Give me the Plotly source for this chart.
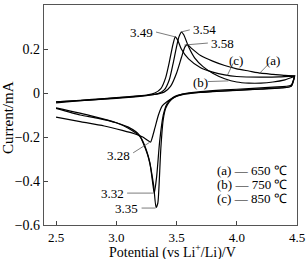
import plotly.graph_objects as go

# Curve (a) 650 C: anodic peak 3.58, cathodic peak 3.28
a_fwd_x = [2.5, 2.7, 2.9, 3.1, 3.3, 3.4, 3.45, 3.5, 3.54, 3.57, 3.59, 3.62, 3.7, 3.8, 3.9, 4.0, 4.1, 4.2, 4.3, 4.4, 4.48]
a_fwd_y = [-0.045, -0.035, -0.027, -0.018, -0.008, 0.005, 0.03, 0.09, 0.16, 0.21, 0.22, 0.205, 0.17, 0.145, 0.125, 0.11, 0.1, 0.09, 0.085, 0.08, 0.078]
a_rev_x = [4.48, 4.45, 4.3, 4.1, 3.9, 3.7, 3.55, 3.48, 3.42, 3.38, 3.35, 3.32, 3.30, 3.285, 3.26, 3.22, 3.15, 3.05, 2.9, 2.7, 2.5]
a_rev_y = [0.078, 0.035, 0.027, 0.02, 0.014, 0.006, -0.005, -0.02, -0.04, -0.06, -0.10, -0.16, -0.20, -0.223, -0.215, -0.2, -0.185, -0.17, -0.15, -0.13, -0.11]

# Curve (b) 750 C: anodic peak 3.54, cathodic peak 3.35
b_fwd_x = [2.5, 2.7, 2.9, 3.1, 3.25, 3.35, 3.40, 3.44, 3.47, 3.50, 3.52, 3.54, 3.56, 3.60, 3.65, 3.72, 3.80, 3.90, 4.00, 4.10, 4.20, 4.30, 4.40, 4.48]
b_fwd_y = [-0.04, -0.035, -0.028, -0.02, -0.012, -0.002, 0.015, 0.06, 0.13, 0.21, 0.255, 0.277, 0.265, 0.21, 0.16, 0.12, 0.09, 0.065, 0.05, 0.045, 0.045, 0.05, 0.06, 0.075]
b_rev_x = [4.48, 4.45, 4.35, 4.2, 4.0, 3.8, 3.65, 3.55, 3.48, 3.44, 3.41, 3.39, 3.37, 3.355, 3.345, 3.33, 3.31, 3.27, 3.24, 3.19, 3.1, 3.0, 2.85, 2.7, 2.5]
b_rev_y = [0.075, 0.03, 0.022, 0.018, 0.012, 0.006, 0.0, -0.008, -0.02, -0.04, -0.07, -0.12, -0.25, -0.42, -0.50, -0.52, -0.42, -0.30, -0.25, -0.19, -0.155, -0.135, -0.115, -0.10, -0.07]

# Curve (c) 850 C: anodic peak 3.49, cathodic peak 3.32
c_fwd_x = [2.5, 2.7, 2.9, 3.1, 3.25, 3.32, 3.37, 3.41, 3.44, 3.47, 3.49, 3.51, 3.54, 3.6, 3.7, 3.8, 3.9, 4.0, 4.2, 4.35, 4.48]
c_fwd_y = [-0.04, -0.033, -0.025, -0.017, -0.01, 0.0, 0.02, 0.07, 0.14, 0.22, 0.255, 0.24, 0.2, 0.155, 0.115, 0.095, 0.082, 0.075, 0.072, 0.073, 0.077]
c_rev_x = [4.48, 4.45, 4.3, 4.1, 3.9, 3.7, 3.55, 3.47, 3.42, 3.39, 3.36, 3.335, 3.315, 3.30, 3.28, 3.25, 3.2, 3.1, 3.0, 2.8, 2.5]
c_rev_y = [0.077, 0.03, 0.022, 0.015, 0.01, 0.003, -0.005, -0.02, -0.05, -0.1, -0.22, -0.38, -0.455, -0.40, -0.32, -0.26, -0.2, -0.16, -0.135, -0.105, -0.068]

x_ticks = [2.5, 3.0, 3.5, 4.0, 4.5]
x_tick_labels = ["2.5", "3.0", "3.5", "4.0", "4.5"]
y_ticks = [0.4, 0.2, 0.0, -0.2, -0.4, -0.6]
y_tick_labels = ["0.4", "0.2", "0", "\u22120.2", "\u22120.4", "\u22120.6"]

# Peak labels: (text, leader x0, y0, leader x1, y1, text x, text y, anchor)
peak_labels = [
    ("3.49", 3.49, 0.255, 3.33, 0.277, 3.318, 0.277, "right"),
    ("3.54", 3.535, 0.277, 3.61, 0.287, 3.62, 0.29, "left"),
    ("3.58", 3.565, 0.218, 3.76, 0.227, 3.77, 0.227, "left"),
    ("3.28", 3.275, -0.225, 3.14, -0.272, 3.13, -0.282, "right"),
    ("3.32", 3.31, -0.455, 3.09, -0.455, 3.08, -0.455, "right"),
    ("3.35", 3.326, -0.523, 3.21, -0.523, 3.20, -0.523, "right"),
]
# Curve labels: (text, leader x0, y0, leader x1, y1, text x, text y)
curve_labels = [
    ("(a)", 4.19, 0.09, 4.27, 0.135, 4.30, 0.15),
    ("(c)", 3.92, 0.078, 3.97, 0.135, 3.99, 0.15),
    ("(b)", 3.93, 0.055, 3.76, 0.052, 3.70, 0.05),
]
legend_lines = ["(a) \u2014 650 \u2103", "(b) \u2014 750 \u2103", "(c) \u2014 850 \u2103"]
legend_y = [-0.35, -0.415, -0.48]

FONT = "Liberation Serif"
fig = go.Figure()
for fx, fy, rx, ry in [(a_fwd_x, a_fwd_y, a_rev_x, a_rev_y),
                       (b_fwd_x, b_fwd_y, b_rev_x, b_rev_y),
                       (c_fwd_x, c_fwd_y, c_rev_x, c_rev_y)]:
    fig.add_trace(go.Scatter(x=fx + rx, y=fy + ry, mode="lines",
                             line=dict(color="black", width=1.2, shape="spline", smoothing=0.6),
                             showlegend=False, hoverinfo="skip"))

annotations = []
for t, x0, y0, x1, y1, tx, ty, anc in peak_labels:
    fig.add_trace(go.Scatter(x=[x0, x1], y=[y0, y1], mode="lines",
                             line=dict(color="#444", width=0.7), showlegend=False, hoverinfo="skip"))
    annotations.append(dict(x=tx, y=ty, text=t, showarrow=False, xanchor=anc, yanchor="middle",
                            font=dict(family=FONT, size=13, color="black")))
for t, x0, y0, x1, y1, tx, ty in curve_labels:
    fig.add_trace(go.Scatter(x=[x0, x1], y=[y0, y1], mode="lines",
                             line=dict(color="#444", width=0.7), showlegend=False, hoverinfo="skip"))
    annotations.append(dict(x=tx, y=ty, text=t, showarrow=False, xanchor="center", yanchor="middle",
                            font=dict(family=FONT, size=13, color="black")))
for t, yy in zip(legend_lines, legend_y):
    annotations.append(dict(x=4.43, y=yy, text=t, showarrow=False, xanchor="right",
                            font=dict(family=FONT, size=13, color="black")))

# Axis titles placed as paper annotations
annotations.append(dict(xref="paper", yref="paper", x=(172 - 44) / 253, y=(259 - 251 - 34) / 220,
                        text="Potential (vs Li<sup>+</sup>/Li)/V", showarrow=False,
                        xanchor="center", yanchor="middle",
                        font=dict(family=FONT, size=14, color="black")))
annotations.append(dict(xref="paper", yref="paper", x=(8 - 44) / 253, y=(225 - 118) / 220,
                        text="Current/mA", showarrow=False, textangle=-90,
                        xanchor="center", yanchor="middle",
                        font=dict(family=FONT, size=15, color="black")))

fig.update_layout(
    width=306, height=259,
    margin=dict(l=44, r=9, t=5, b=34),
    paper_bgcolor="white", plot_bgcolor="white",
    font=dict(family=FONT, size=14, color="black"),
    annotations=annotations,
    xaxis=dict(range=[2.4, 4.5], tickvals=x_ticks, ticktext=x_tick_labels,
               ticks="inside", ticklen=4, tickcolor="#444",
               tickfont=dict(family=FONT, size=13),
               showline=True, linecolor="#555", linewidth=1.2, mirror=True,
               showgrid=False, zeroline=False, automargin=False),
    yaxis=dict(range=[-0.6, 0.4], tickvals=y_ticks, ticktext=y_tick_labels,
               ticks="inside", ticklen=4, tickcolor="#444",
               tickfont=dict(family=FONT, size=14),
               showline=True, linecolor="#555", linewidth=1.2, mirror=True,
               showgrid=False, zeroline=False, automargin=False),
)
fig.write_html("out.html")
